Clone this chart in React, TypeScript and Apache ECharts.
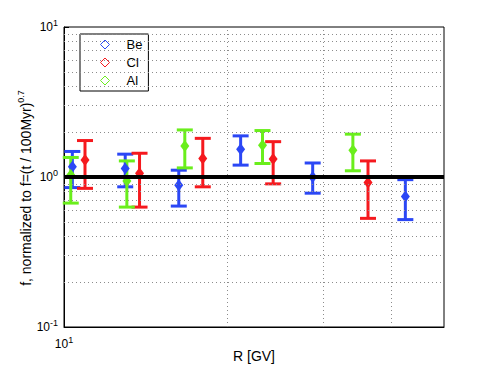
import React, { useEffect, useRef } from "react";
import * as echarts from "echarts";

const beR = [10.36, 12.96, 16.26, 21.13, 28.67, 42.45];
const beF = [1.17, 1.14, 0.88, 1.53, 1.0, 0.74];
const beLo = [0.85, 0.86, 0.64, 1.2, 0.78, 0.52];
const beHi = [1.48, 1.42, 1.11, 1.88, 1.24, 0.96];

const clR = [10.93, 13.77, 18.0, 24.25, 36.24];
const clF = [1.3, 1.06, 1.33, 1.32, 0.92];
const clLo = [0.84, 0.63, 0.86, 0.9, 0.53];
const clHi = [1.75, 1.44, 1.81, 1.72, 1.28];

const alR = [10.29, 13.05, 16.68, 23.18, 33.99];
const alF = [1.03, 0.94, 1.61, 1.63, 1.51];
const alLo = [0.67, 0.63, 1.15, 1.23, 1.1];
const alHi = [1.35, 1.28, 2.06, 2.04, 1.93];

const yMinorGrid = [0.2, 0.3, 0.4, 0.5, 0.6, 0.7, 0.8, 0.9, 2, 3, 4, 5, 6, 7, 8, 9];
const xMinorGrid = [20, 30, 40];

const BLUE = "#2b47f5";
const RED = "#f5191e";
const GREEN = "#6aee1c";
const FONT = "Liberation Sans, Arial, sans-serif";

function errSeries(name: string, color: string, r: number[], lo: number[], hi: number[]) {
  return {
    name,
    type: "custom",
    data: r.map((x, i) => [x, lo[i], hi[i]]),
    encode: { x: 0, y: [1, 2] },
    z: 3,
    renderItem: (params: any, api: any) => {
      const x = api.value(0);
      const pLo = api.coord([x, api.value(1)]);
      const pHi = api.coord([x, api.value(2)]);
      const hw = 8;
      const style = { stroke: color, lineWidth: 3 };
      return {
        type: "group",
        children: [
          { type: "line", shape: { x1: pLo[0], y1: pLo[1], x2: pHi[0], y2: pHi[1] }, style },
          { type: "line", shape: { x1: pLo[0] - hw, y1: pLo[1], x2: pLo[0] + hw, y2: pLo[1] }, style },
          { type: "line", shape: { x1: pHi[0] - hw, y1: pHi[1], x2: pHi[0] + hw, y2: pHi[1] }, style },
        ],
      };
    },
  };
}

function pointSeries(name: string, color: string, r: number[], f: number[]) {
  return {
    name,
    type: "scatter",
    data: r.map((x, i) => [x, f[i]]),
    symbol: "diamond",
    symbolSize: [9, 12],
    itemStyle: { color, opacity: 1 },
    z: 4,
  };
}

const supFmt = (v: number) => {
  const e = Math.round(Math.log10(v));
  return `{b|10}{s|${e}}`;
};

export default function App() {
  const ref = useRef<HTMLDivElement>(null);
  useEffect(() => {
    if (!ref.current) return;
    const chart = echarts.init(ref.current, null, { renderer: "svg" });
    const richLab = {
      b: { fontSize: 12, fontFamily: FONT, color: "#000" },
      s: { fontSize: 9, fontFamily: FONT, color: "#000", padding: [0, 0, 9, 0] },
    };
    chart.setOption({
      animation: false,
      backgroundColor: "#fff",
      grid: {
        left: 64,
        top: 27,
        right: 47,
        bottom: 41,
        show: true,
        borderColor: "#000",
        borderWidth: 1,
        backgroundColor: "#fff",
      },
      legend: {
        orient: "vertical",
        left: 80,
        top: 34,
        padding: [4, 6, 4, 20],
        itemGap: 5,
        itemWidth: 9,
        itemHeight: 9,
        borderColor: "#000",
        borderWidth: 1,
        backgroundColor: "#fff",
        textStyle: { fontSize: 13, fontFamily: FONT, color: "#000", padding: [0, 0, 0, 12] },
        data: [
          { name: "Be", icon: "diamond", itemStyle: { color: "#fff", borderColor: BLUE, borderWidth: 1 } },
          { name: "Cl", icon: "diamond", itemStyle: { color: "#fff", borderColor: RED, borderWidth: 1 } },
          { name: "Al", icon: "diamond", itemStyle: { color: "#fff", borderColor: GREEN, borderWidth: 1 } },
        ],
      },
      xAxis: {
        type: "log",
        logBase: 10,
        min: 10,
        max: 50,
        name: "R [GV]",
        nameLocation: "middle",
        nameGap: 22,
        nameMoveOverlap: false,
        nameTextStyle: { fontSize: 14, fontFamily: FONT, color: "#000" },
        axisLine: { lineStyle: { color: "#000" } },
        axisTick: { inside: true, length: 5, lineStyle: { color: "#000" } },
        splitLine: { show: false },
        axisLabel: {
          margin: 8,
          showMaxLabel: false,
          formatter: (v: number) => (Math.abs(v - 10) < 1e-6 ? supFmt(v) : ""),
          rich: richLab,
        },
      },
      yAxis: {
        type: "log",
        logBase: 10,
        min: 0.1,
        max: 10,
        name: "f, normalized to f=(t / 100Myr){sup|0.7}",
        nameLocation: "middle",
        nameGap: 29,
        nameMoveOverlap: false,
        nameTextStyle: {
          fontSize: 14,
          fontFamily: FONT,
          color: "#000",
          padding: [0, 22, 0, 0],
          rich: {
            sup: { fontSize: 9, fontFamily: FONT, color: "#000", padding: [0, 0, 10, 0] },
          },
        },
        axisLine: { lineStyle: { color: "#000" } },
        axisTick: { inside: true, length: 5, lineStyle: { color: "#000" } },
        splitLine: { show: false },
        axisLabel: {
          margin: 6,
          formatter: supFmt,
          rich: richLab,
        },
      },
      series: [
        {
          name: "grid",
          type: "line",
          data: [],
          silent: true,
          z: 1,
          markLine: {
            silent: true,
            symbol: ["none", "none"],
            label: { show: false },
            lineStyle: { color: "#8c8c8c", type: [1, 3], width: 1 },
            data: [
              ...yMinorGrid.map((v) => ({ yAxis: v })),
              ...xMinorGrid.map((v) => ({ xAxis: v })),
            ],
          },
        },
        errSeries("Be-err", BLUE, beR, beLo, beHi),
        errSeries("Cl-err", RED, clR, clLo, clHi),
        errSeries("Al-err", GREEN, alR, alLo, alHi),
        pointSeries("Be", BLUE, beR, beF),
        pointSeries("Cl", RED, clR, clF),
        pointSeries("Al", GREEN, alR, alF),
        {
          name: "unity",
          type: "line",
          data: [],
          silent: true,
          z: 6,
          markLine: {
            silent: true,
            symbol: ["none", "none"],
            label: { show: false },
            lineStyle: { color: "#000", type: "solid", width: 4 },
            data: [{ yAxis: 1 }],
          },
        },
      ],
    });
    return () => chart.dispose();
  }, []);
  return (
    <div
      ref={ref}
      style={{ position: "fixed", left: 0, top: 0, width: 491, height: 368, background: "#fff" }}
    />
  );
}
